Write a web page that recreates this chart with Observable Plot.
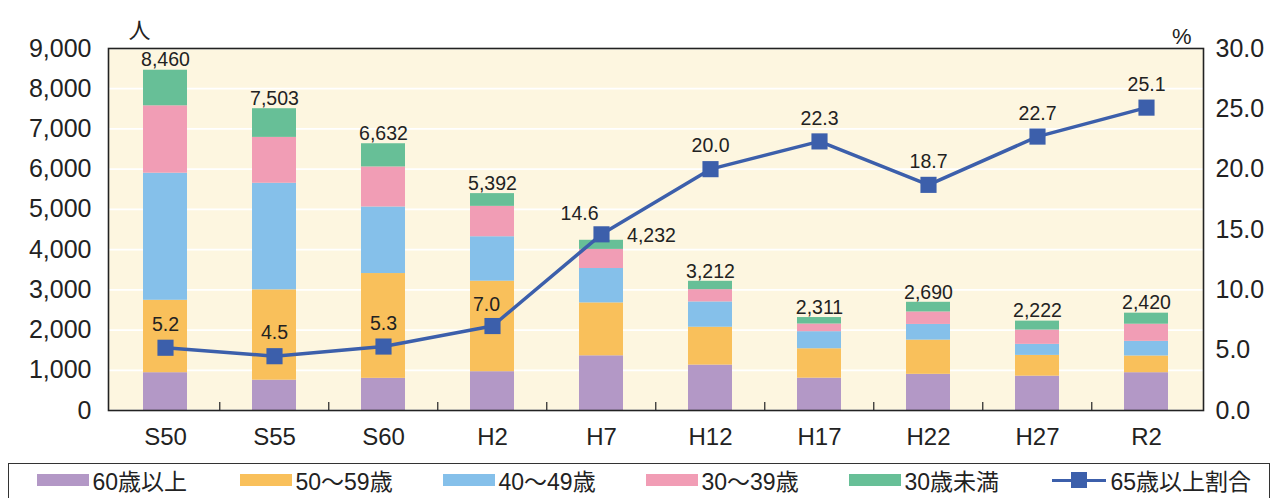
<!DOCTYPE html>
<html><head><meta charset="utf-8">
<script src="https://cdn.jsdelivr.net/npm/d3@7"></script>
<script src="https://cdn.jsdelivr.net/npm/@observablehq/plot@0.6"></script>
<style>
body{margin:0;width:1276px;height:498px;overflow:hidden;background:#fff;font-family:"Liberation Sans","Noto Sans CJK JP",sans-serif;}
#chart{position:absolute;left:0;top:0;}
#legend{position:absolute;left:8px;top:463px;width:1262px;height:44px;border:1.5px solid #333;box-sizing:border-box;display:flex;align-items:center;padding-left:27.5px;padding-bottom:10px;}
.item{display:flex;align-items:center;width:203px;font-size:23px;color:#222;white-space:nowrap;}
.sw{width:52px;height:12px;margin-right:4px;}
.ln{position:relative;width:54px;height:16px;margin-right:5px;}
.ln:before{content:"";position:absolute;left:0;right:0;top:6.5px;height:3.5px;background:#3c5fab;}
.ln:after{content:"";position:absolute;left:19px;top:0;width:16px;height:16px;background:#3c5fab;}
</style></head>
<body>
<div id="chart"></div>
<div id="legend"></div>
<script>
const periods = ["S50","S55","S60","H2","H7","H12","H17","H22","H27","R2"];
const groups = ["60歳以上","50～59歳","40～49歳","30～39歳","30歳未満"];
const colors = ["#b398c6","#f9c05b","#85c0ea","#f19db5","#67bf97"];
const age60plus = [940,755,800,965,1360,1130,805,900,855,940];
const age50s = [1800,2245,2605,2250,1315,940,730,850,515,415];
const age40s = [3160,2650,1655,1105,855,630,425,390,275,365];
const age30s = [1675,1140,995,755,475,305,190,310,355,425];
const under30 = [885,713,577,317,227,207,161,240,222,275];
const totals = [8460,7503,6632,5392,4232,3212,2311,2690,2222,2420];
const rate65 = [5.2,4.5,5.3,7.0,14.6,20.0,22.3,18.7,22.7,25.1];
const lineName = "65歳以上割合";
const leftTicks = [0,1000,2000,3000,4000,5000,6000,7000,8000,9000];
const rightTicks = [0,5,10,15,20,25,30];
const rightMax = 30, leftMax = 9000;
const k = leftMax / rightMax;

const series = [age60plus, age50s, age40s, age30s, under30];
const stacked = [];
periods.forEach((p, i) => series.forEach((s, g) => stacked.push({period: p, group: groups[g], value: s[i]})));
const tot = periods.map((p, i) => ({period: p, total: totals[i]}));
const rates = periods.map((p, i) => ({period: p, rate: rate65[i], y: rate65[i] * k}));

const font = "'Liberation Sans','Noto Sans CJK JP',sans-serif";
const plot = Plot.plot({
  width: 1276, height: 460,
  marginLeft: 108, marginRight: 73, marginTop: 48, marginBottom: 50,
  style: {fontFamily: font, color: "#222", background: "transparent"},
  x: {domain: periods, paddingInner: 0.6, paddingOuter: 0.3, label: null},
  y: {domain: [0, leftMax], label: null},
  color: {domain: groups, range: colors},
  marks: [
    Plot.frame({fill: "#fdf6e0", stroke: "none"}),
    Plot.gridY(leftTicks, {stroke: "#fff", strokeOpacity: 1, strokeWidth: 1.8}),
    Plot.barY(stacked, {x: "period", y: "value", fill: "group", order: null}),
    Plot.ruleX(periods.slice(1), {x: d => d, dx: -54.75, y1: 0, y2: 200, stroke: "#333", strokeWidth: 1.3}),
    Plot.text(tot.filter(d => d.period !== "H7"), {x: "period", y: "total", text: d => d3.format(",")(d.total), dy: -10, fontSize: 19.5, fill: "#222"}),
    Plot.text(tot.filter(d => d.period === "H7"), {x: "period", y: "total", text: d => d3.format(",")(d.total), dx: 50, dy: -5, fontSize: 19.5, fill: "#222"}),
    Plot.line(rates, {x: "period", y: "y", stroke: "#3c5fab", strokeWidth: 3.5}),
    Plot.dot(rates, {x: "period", y: "y", symbol: "square", r: 9.1, fill: "#3c5fab", stroke: "none"}),
    Plot.text(rates.filter(d => !["H7","H2"].includes(d.period)), {x: "period", y: "y", text: d => d.rate.toFixed(1), dy: -23, fontSize: 19.5, fill: "#222"}),
    Plot.text(rates.filter(d => d.period === "H2"), {x: "period", y: "y", text: d => d.rate.toFixed(1), dx: -6, dy: -21, fontSize: 19.5, fill: "#222"}),
    Plot.text(rates.filter(d => d.period === "H7"), {x: "period", y: "y", text: d => d.rate.toFixed(1), dx: -22, dy: -21, fontSize: 19.5, fill: "#222"}),
    Plot.frame({stroke: "#222", strokeWidth: 1.6}),
    Plot.axisY(leftTicks, {anchor: "left", tickSize: 0, tickPadding: 17, tickFormat: d3.format(","), fontSize: 25, label: null}),
    Plot.axisY(rightTicks.map(d => d * k), {anchor: "right", tickSize: 0, tickPadding: 12, tickFormat: d => (d / k).toFixed(1), fontSize: 25, label: null}),
    Plot.axisX({tickSize: 0, tickPadding: 17, fontSize: 24, label: null}),
    Plot.text(["人"], {frameAnchor: "top-left", dx: 20, dy: -26, fontSize: 22, fill: "#222"}),
    Plot.text(["%"], {frameAnchor: "top-right", dx: -12, dy: -20, fontSize: 22, fill: "#222"})
  ]
});
document.getElementById("chart").append(plot);

const lg = document.getElementById("legend");
groups.forEach((g, i) => {
  const it = document.createElement("div"); it.className = "item";
  const sw = document.createElement("span"); sw.className = "sw"; sw.style.background = colors[i];
  const t = document.createElement("span"); t.textContent = g;
  it.append(sw, t); lg.append(it);
});
const it = document.createElement("div"); it.className = "item";
const ln = document.createElement("span"); ln.className = "ln";
const t = document.createElement("span"); t.textContent = lineName;
it.append(ln, t); lg.append(it);
</script>
</body></html>
